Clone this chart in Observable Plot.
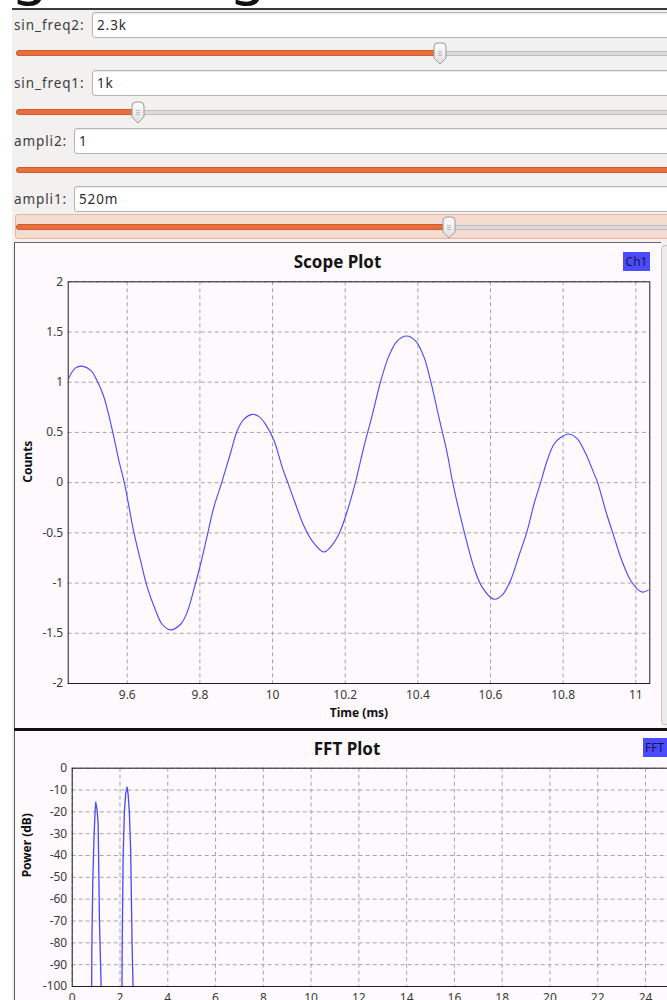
<!DOCTYPE html>
<html>
<head>
<meta charset="utf-8">
<script src="https://cdn.jsdelivr.net/npm/d3@7"></script>
<script src="https://cdn.jsdelivr.net/npm/@observablehq/plot@0.6"></script>
<style>
html,body{margin:0;padding:0;width:667px;height:1000px;overflow:hidden;background:#fff;font-family:"Noto Sans",sans-serif;}
.abs{position:absolute;}
#win{left:12px;top:8px;width:700px;height:1000px;background:#f2f1f0;border-top:2px solid #3a3a3a;box-sizing:border-box;}
.hd{position:absolute;top:-59px;font-size:58px;line-height:58px;color:#111;font-family:"Noto Sans",sans-serif;}
.lbl{position:absolute;left:14px;font-size:13.5px;letter-spacing:0.9px;color:#3c3c3c;line-height:16px;}
.box{position:absolute;width:700px;height:26px;background:#fff;border:1px solid #b4b4b4;border-radius:3px;box-sizing:border-box;font-size:13.5px;letter-spacing:0.9px;color:#2c2c2c;line-height:24px;padding-left:4px;box-shadow:inset 0 1px 1px rgba(0,0,0,0.08);}
.trk{position:absolute;left:16px;width:700px;height:3px;background:#dcdcdc;border:1px solid #bdbdbd;border-radius:2px;}
.fill{position:absolute;left:16px;height:4px;background:#e9703d;border:1px solid #cf5c2c;border-radius:3px;}
.hdl{position:absolute;width:14px;height:23px;}
.panel{position:absolute;left:14px;background:#fdf9fd;border-left:1px solid #5a5a5a;}
.ttl{position:absolute;font-weight:bold;font-size:17px;color:#151515;transform:translate(-50%,-50%);white-space:nowrap;}
.leg{position:absolute;background:#4b4bff;color:#161650;font-size:12px;line-height:19px;text-align:center;}
</style>
</head>
<body>
<div id="win" class="abs"></div>
<div class="hd"><span style="position:absolute;left:12px">g</span><span style="position:absolute;left:230px">g</span></div>
<div class="abs" style="left:15px;top:214px;width:700px;height:25px;background:#f3dbd0;border:1px solid #eab49b;border-radius:3px;box-sizing:border-box;"></div>
<div id="widgets"></div>

<div class="panel" style="top:242px;width:646px;height:486px;border-top:1px solid #6a6a6a;" id="scopePanel"></div>
<div class="abs" style="left:661px;top:245px;width:20px;height:478px;background:#ececec;border:1px solid #c4c4c4;border-radius:4px;"></div>
<div class="abs" style="left:14px;top:728px;width:700px;height:3px;background:#111;"></div>
<div class="panel" style="top:731px;width:700px;height:300px;" id="fftPanel"></div>

<div class="ttl" style="left:337.5px;top:261px;">Scope Plot</div>
<div class="leg" style="left:623px;top:252px;width:27px;height:19px;">Ch1</div>
<div class="ttl" style="left:347px;top:748px;">FFT Plot</div>
<div class="leg" style="left:643px;top:738px;width:30px;height:19px;text-align:left;padding-left:2px;">FFT</div>

<div id="scope" class="abs" style="left:14px;top:243px;"></div>
<div id="fft" class="abs" style="left:14px;top:731px;"></div>

<script>
// ---- slider widgets (GUI controls shown above the plots) ----
const sliderNames = ["sin_freq2:", "sin_freq1:", "ampli2:", "ampli1:"];
const sliderValues = ["2.3k", "1k", "1", "520m"];

// ---- Scope Plot: time (ms) vs counts ----
const scopeTime = [9.439, 9.457, 9.476, 9.499, 9.517, 9.536, 9.559, 9.577, 9.592, 9.618,
  9.637, 9.655, 9.678, 9.696, 9.719, 9.747, 9.765, 9.783, 9.802, 9.820,
  9.838, 9.860, 9.884, 9.903, 9.921, 9.944, 9.962, 9.981, 10.004, 10.027,
  10.042, 10.063, 10.086, 10.109, 10.141, 10.160, 10.183, 10.206, 10.228, 10.251,
  10.275, 10.297, 10.320, 10.343, 10.369, 10.394, 10.417, 10.435, 10.458, 10.481,
  10.496, 10.527, 10.554, 10.577, 10.609, 10.632, 10.655, 10.678, 10.701, 10.720,
  10.738, 10.756, 10.775, 10.793, 10.816, 10.839, 10.862, 10.885, 10.895, 10.917,
  10.940, 10.963, 10.986, 11.009, 11.020, 11.034];
const scopeCounts = [1.04, 1.14, 1.16, 1.12, 1.015, 0.85, 0.52, 0.22, 0.0, -0.49,
  -0.78, -1.04, -1.27, -1.41, -1.466, -1.41, -1.29, -1.07, -0.81, -0.53,
  -0.25, 0.0, 0.29, 0.52, 0.63, 0.68, 0.66, 0.58, 0.42, 0.15,
  0.0, -0.21, -0.43, -0.58, -0.69, -0.64, -0.51, -0.28, 0.0, 0.35,
  0.68, 1.0, 1.26, 1.41, 1.46, 1.41, 1.25, 1.015, 0.65, 0.29,
  0.0, -0.48, -0.84, -1.04, -1.16, -1.12, -0.975, -0.73, -0.48, -0.21,
  0.0, 0.22, 0.385, 0.45, 0.485, 0.435, 0.29, 0.09, 0.0, -0.28,
  -0.54, -0.79, -0.975, -1.075, -1.09, -1.07];
const scopeXTicks = [9.6, 9.8, 10, 10.2, 10.4, 10.6, 10.8, 11];
const scopeYTicks = [-2, -1.5, -1, -0.5, 0, 0.5, 1, 1.5, 2];

// ---- FFT Plot: frequency (kHz) vs power (dB), NaN = gap below -100 dB ----
const fftFreq = [0.815, 0.82, 0.86, 0.918, 0.96, 0.986, 1.044, 1.086, 1.14, 1.21,
  NaN,
  2.086, 2.088, 2.13, 2.184, 2.238, 2.297, 2.338, 2.392, 2.447, 2.505, 2.547];
const fftPower = [-100, -84.2, -52.2, -30, -19.4, -15.6, -19.4, -25.5, -69.8, -100,
  NaN,
  -100, -87.3, -41.5, -20.2, -11.7, -8.7, -11.7, -20.2, -37.7, -79.7, -100];
const fftXTicks = [0, 2, 4, 6, 8, 10, 12, 14, 16, 18, 20, 22, 24];
const fftYTicks = [0, -10, -20, -30, -40, -50, -60, -70, -80, -90, -100];

// ---- build widgets ----
const rowTop = [12, 70, 128, 186];
const boxLeft = [92, 92, 74, 74];
const trackY = [53, 112, 170, 227];
const handleX = [440, 138, null, 449];
const handleSVG = `<svg width="14" height="23" viewBox="0 0 14 23"><defs><linearGradient id="hg" x1="0" x2="0" y1="0" y2="1"><stop offset="0" stop-color="#ffffff"/><stop offset="1" stop-color="#dedede"/></linearGradient></defs><path d="M1,5 Q1,1 5,1 L9,1 Q13,1 13,5 L13,16 L7,22 L1,16 Z" fill="url(#hg)" stroke="#9a9a9a"/><path d="M5,9.5H9M5,11.5H9M5,13.5H9" stroke="#b0b0b0" stroke-width="0.8"/></svg>`;
let html = "";
sliderNames.forEach((n, i) => {
  html += `<div class="lbl" style="top:${rowTop[i] + 5}px">${n}</div>`;
  html += `<div class="box" style="left:${boxLeft[i]}px;top:${rowTop[i]}px">${sliderValues[i]}</div>`;
  html += `<div class="trk" style="top:${trackY[i] - 2}px"></div>`;
  const hx = handleX[i] == null ? 720 : handleX[i];
  html += `<div class="fill" style="top:${trackY[i] - 3}px;width:${hx - 16}px"></div>`;
  if (handleX[i] != null) html += `<div class="hdl" style="left:${hx - 7}px;top:${trackY[i] - 11}px">${handleSVG}</div>`;
});
document.getElementById("widgets").innerHTML = html;

const gridStyle = {stroke: "#a6a6a6", strokeOpacity: 1, strokeDasharray: "4,3", strokeWidth: 1};
const fmt = d => String(d);

// ---- Scope plot ----
const scopeData = scopeTime.map((t, i) => ({t, v: scopeCounts[i]}));
const scope = Plot.plot({
  width: 646, height: 485,
  marginLeft: 53.7, marginRight: 10.7, marginTop: 38.3, marginBottom: 45,
  style: {background: "transparent", fontFamily: "Noto Sans", fontSize: "12px", color: "#3a3a3a", overflow: "visible", maxWidth: "none"},
  x: {domain: [9.4375, 11.0385]},
  y: {domain: [-2, 2]},
  marks: [
    Plot.gridX(scopeXTicks, gridStyle),
    Plot.gridY(scopeYTicks, gridStyle),
    Plot.line(scopeData, {x: "t", y: "v", stroke: "#4848ff", strokeWidth: 1.1, curve: "catmull-rom"}),
    Plot.frame({stroke: "#1e1e1e"}),
    Plot.axisX(scopeXTicks, {tickSize: 0, tickPadding: 7, tickFormat: fmt, label: null, fontSize: 12}),
    Plot.axisY(scopeYTicks, {tickSize: 0, tickPadding: 5, tickFormat: fmt, label: null, fontSize: 12}),
    Plot.text(["Time (ms)"], {text: d => d, frameAnchor: "bottom", dy: 33, fontWeight: "bold", fontSize: 12, fill: "#111"}),
    Plot.text(["Counts"], {text: d => d, frameAnchor: "left", dx: -40, rotate: -90, fontWeight: "bold", fontSize: 12, fill: "#111"})
  ]
});
document.getElementById("scope").appendChild(scope);

// ---- FFT plot ----
const fftData = fftFreq.map((f, i) => ({f, p: fftPower[i]}));
const fft = Plot.plot({
  width: 688.8, height: 290,
  marginLeft: 57.7, marginRight: 10, marginTop: 36.7, marginBottom: 35,
  style: {background: "transparent", fontFamily: "Noto Sans", fontSize: "12px", color: "#3a3a3a", overflow: "visible", maxWidth: "none"},
  x: {domain: [0, 26]},
  y: {domain: [-100, 0]},
  marks: [
    Plot.gridX(fftXTicks, gridStyle),
    Plot.gridY(fftYTicks, gridStyle),
    Plot.line(fftData, {x: "f", y: "p", stroke: "#4848ff", strokeWidth: 1.3}),
    Plot.frame({stroke: "#1e1e1e"}),
    Plot.axisX(fftXTicks, {tickSize: 0, tickPadding: 7, tickFormat: fmt, label: null, fontSize: 12}),
    Plot.axisY(fftYTicks, {tickSize: 0, tickPadding: 5, tickFormat: fmt, label: null, fontSize: 12}),
    Plot.text(["Power (dB)"], {text: d => d, frameAnchor: "left", dx: -45, rotate: -90, fontWeight: "bold", fontSize: 12, fill: "#111"})
  ]
});
document.getElementById("fft").appendChild(fft);
</script>
</body>
</html>
